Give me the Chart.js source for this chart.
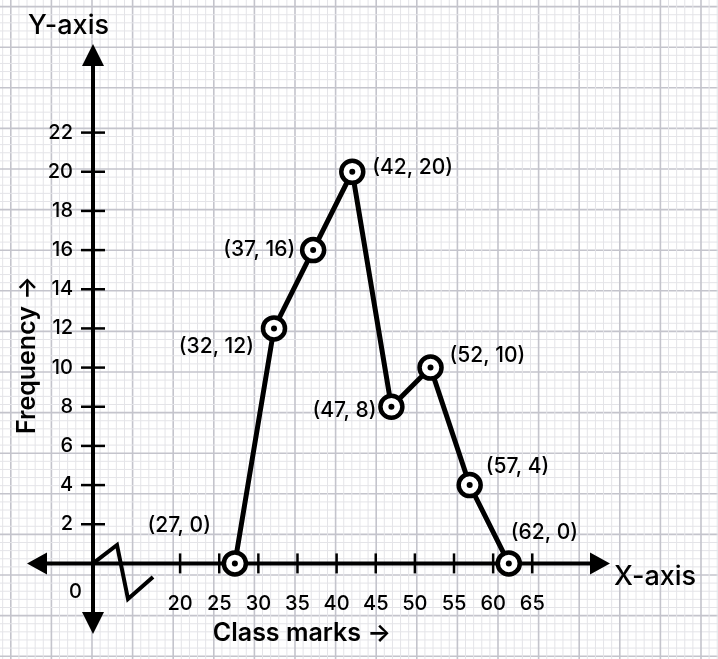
<!DOCTYPE html>
<html><head><meta charset="utf-8">
<script src="https://cdn.jsdelivr.net/npm/chart.js@4"></script>
<style>html,body{margin:0;padding:0;background:#fff;overflow:hidden}#c{display:block}</style>
</head><body>
<canvas id="c" width="718" height="659" style="width:718px;height:659px"></canvas>
<script>
const classMarks = [27, 32, 37, 42, 47, 52, 57, 62];
const frequency = [0, 12, 16, 20, 8, 10, 4, 0];
const xTicks = [20, 25, 30, 35, 40, 45, 50, 55, 60, 65];
const yTicks = [2, 4, 6, 8, 10, 12, 14, 16, 18, 20, 22];
const pointLabels = ["(27, 0)", "(32, 12)", "(37, 16)", "(42, 20)", "(47, 8)", "(52, 10)", "(57, 4)", "(62, 0)"];
const labelOffsets = [[-24,-38],[-20,18],[-18,0],[20,-4],[-15,4],[19,-12],[16,-18],[2,-31]];
const F = 'Inter, "Noto Sans", sans-serif';

const deco = {
  id: 'deco',
  beforeDraw(chart) {
    const ctx = chart.ctx, W = chart.width, H = chart.height;
    ctx.save();
    ctx.fillStyle = '#fff'; ctx.fillRect(0,0,W,H);
    const step = 40.6/5;
    for (let i = -20; i < 120; i++) {
      const x = 92 + i*step;
      ctx.strokeStyle = (i%5===0) ? '#c4c4cc' : '#e4e4e8';
      ctx.lineWidth = (i%5===0) ? 1.6 : 1;
      if (x>=0 && x<=W){ctx.beginPath();ctx.moveTo(x,0);ctx.lineTo(x,H);ctx.stroke();}
      const y2 = 575 - i*step;
      if (y2>=0 && y2<=H){ctx.beginPath();ctx.moveTo(0,y2);ctx.lineTo(W,y2);ctx.stroke();}
    }
    ctx.restore();
  },
  beforeDatasetsDraw(chart) {
    const ctx = chart.ctx, xs = chart.scales.x, ys = chart.scales.y;
    const ox = 93, oy = ys.getPixelForValue(0);
    ctx.save();
    ctx.strokeStyle = '#000'; ctx.fillStyle = '#000'; ctx.lineWidth = 4;
    ctx.beginPath(); ctx.moveTo(45,oy); ctx.lineTo(595,oy); ctx.stroke();
    ctx.beginPath(); ctx.moveTo(ox,62); ctx.lineTo(ox,618); ctx.stroke();
    const tri = (pts)=>{ctx.beginPath();ctx.moveTo(...pts[0]);ctx.lineTo(...pts[1]);ctx.lineTo(...pts[2]);ctx.closePath();ctx.fill();};
    tri([[610,oy],[590,oy-11],[590,oy+11]]);
    tri([[27,oy],[47,oy-11],[47,oy+11]]);
    tri([[ox,44],[ox-11,66],[ox+11,66]]);
    tri([[ox,634],[ox-11,612],[ox+11,612]]);
    ctx.lineWidth = 4; ctx.lineJoin = 'miter';
    ctx.beginPath(); ctx.moveTo(ox,oy); ctx.lineTo(117,545); ctx.lineTo(128,599); ctx.lineTo(153,577); ctx.stroke();
    ctx.lineWidth = 2.5;
    ctx.font = '500 20px ' + F; ctx.textBaseline = 'top'; ctx.textAlign = 'center';
    xTicks.forEach(v=>{const x=xs.getPixelForValue(v);ctx.beginPath();ctx.moveTo(x,oy-10);ctx.lineTo(x,oy+10);ctx.stroke();ctx.fillText(String(v),x,594);});
    ctx.textAlign = 'right'; ctx.textBaseline = 'middle';
    yTicks.forEach(v=>{const y=ys.getPixelForValue(v);ctx.beginPath();ctx.moveTo(ox-12,y);ctx.lineTo(ox+12,y);ctx.stroke();ctx.fillText(String(v),ox-20,y);});
    ctx.fillText('0', 82, 592);
    ctx.textAlign = 'left'; ctx.font = '500 27px ' + F;
    ctx.fillText('Y-axis', 28, 26);
    ctx.fillText('X-axis', 614, 577);
    ctx.textAlign = 'center'; ctx.font = '600 25px ' + F;
    ctx.fillText('Class marks \u2192', 302, 633);
    ctx.translate(27, 355); ctx.rotate(-Math.PI/2);
    ctx.fillText('Frequency \u2192', 0, 0);
    ctx.restore();
  },
  afterDatasetsDraw(chart) {
    const ctx = chart.ctx, meta = chart.getDatasetMeta(0);
    ctx.save(); ctx.fillStyle = '#000';
    ctx.font = '500 21px ' + F; ctx.textBaseline = 'middle';
    meta.data.forEach((p,i)=>{
      ctx.beginPath(); ctx.arc(p.x,p.y,3,0,Math.PI*2); ctx.fill();
      const [dx,dy] = labelOffsets[i];
      ctx.textAlign = dx<0 ? 'right' : 'left';
      ctx.fillText(pointLabels[i], p.x+dx, p.y+dy);
    });
    ctx.restore();
  }
};

new Chart(document.getElementById('c'), {
  type: 'line',
  data: { datasets: [{
    data: classMarks.map((x,i)=>({x, y: frequency[i]})),
    borderColor: '#000', borderWidth: 5, tension: 0,
    pointRadius: 11, pointBorderWidth: 4.5, pointBackgroundColor: '#fff', pointBorderColor: '#000'
  }]},
  options: {
    responsive: false, maintainAspectRatio: false, animation: false,
    layout: { padding: 0 },
    plugins: { legend: {display:false}, tooltip: {enabled:false} },
    scales: {
      x: { type: 'linear', display: false, min: -1.03, max: 86.75 },
      y: { type: 'linear', display: false, min: -4.09, max: 27.98 }
    }
  },
  plugins: [deco]
});
</script>
</body></html>
